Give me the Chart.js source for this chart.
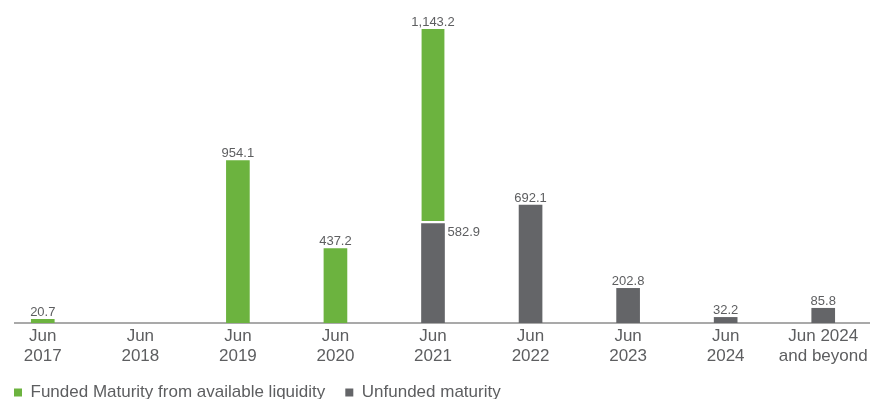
<!DOCTYPE html>
<html>
<head>
<meta charset="utf-8">
<script src="https://cdn.jsdelivr.net/npm/chart.js@4"></script>
<style>
  html, body { margin: 0; padding: 0; background: #fff; overflow: hidden; }
  #wrap { position: absolute; left: -6px; top: 0; width: 878px; height: 411px; }
</style>
</head>
<body>
<div id="wrap"><canvas id="myChart" width="878" height="411"></canvas></div>
<script>
// maturity profile, USD millions (null = nothing maturing)
var labels = [['Jun', '2017'], ['Jun', '2018'], ['Jun', '2019'], ['Jun', '2020'], ['Jun', '2021'],
              ['Jun', '2022'], ['Jun', '2023'], ['Jun', '2024'], ['Jun 2024', 'and beyond']];
var funded   = [20.7, null, 954.1, 437.2, 1143.2, null, null, null, null];
var unfunded = [null, null, null, null, 582.9, 692.1, 202.8, 32.2, 85.8];

var GREEN = '#6cb33f';
var GREY = '#646568';
var TEXT = '#5d5e60';
var FONT = 'Arial, "Liberation Sans", sans-serif';

function fmt(v) {
    return v.toLocaleString('en-US', { minimumFractionDigits: 1, maximumFractionDigits: 1 });
}

// baseline drawn a little in from the left edge
var baseline = {
    id: 'baseline',
    beforeDatasetsDraw: function(chart) {
        var c = chart.ctx, a = chart.chartArea;
        c.save();
        c.strokeStyle = '#8c8c8c';
        c.lineWidth = 1.5;
        c.beginPath();
        c.moveTo(a.left + 20, a.bottom);
        c.lineTo(a.right, a.bottom);
        c.stroke();
        c.restore();
    }
};

// value labels above the bars (unfunded goes to the right when funded sits on top of it)
var valueLabels = {
    id: 'valueLabels',
    afterDatasetsDraw: function(chart) {
        var c = chart.ctx;
        var uMeta = chart.getDatasetMeta(0), fMeta = chart.getDatasetMeta(1);
        c.save();
        c.font = '13px ' + FONT;
        c.fillStyle = TEXT;
        c.textBaseline = 'alphabetic';
        for (var i = 0; i < labels.length; i++) {
            if (funded[i]) {
                var fb = fMeta.data[i];
                c.textAlign = 'center';
                c.fillText(fmt(funded[i]), fb.x, fb.y - 3);
            }
            if (unfunded[i]) {
                var ub = uMeta.data[i];
                if (funded[i]) {
                    c.textAlign = 'left';
                    c.fillText(fmt(unfunded[i]), ub.x + ub.width / 2 + 3, ub.y + 12);
                } else {
                    c.textAlign = 'center';
                    c.fillText(fmt(unfunded[i]), ub.x, ub.y - 3);
                }
            }
        }
        c.restore();
    }
};

var ctx = document.getElementById('myChart').getContext('2d');
var myChart = new Chart(ctx, {
    type: 'bar',
    data: {
        labels: labels,
        datasets: [{
            label: 'Unfunded maturity',
            data: unfunded,
            backgroundColor: GREY,
            barThickness: 23
        }, {
            label: 'Funded Maturity from available liquidity',
            data: funded,
            backgroundColor: GREEN,
            borderColor: '#ffffff',
            borderSkipped: false,
            borderWidth: function(c) {
                return unfunded[c.dataIndex] ? { top: 0, left: 0, right: 0, bottom: 3 } : 0;
            },
            barThickness: 23
        }]
    },
    options: {
        responsive: false,
        animation: false,
        layout: { padding: { top: 8, bottom: 0 } },
        plugins: {
            tooltip: { enabled: false },
            legend: {
                position: 'bottom',
                align: 'start',
                reverse: true,
                labels: {
                    boxWidth: 8,
                    boxHeight: 8,
                    padding: 20,
                    color: TEXT,
                    font: { family: FONT, size: 17 },
                    generateLabels: function(chart) {
                        return chart.data.datasets.map(function(ds, i) {
                            return { text: ds.label, fillStyle: ds.backgroundColor, strokeStyle: ds.backgroundColor,
                                     lineWidth: 0, datasetIndex: i, fontColor: TEXT };
                        });
                    }
                }
            }
        },
        scales: {
            x: {
                stacked: true,
                grid: { display: false, drawTicks: false },
                border: { display: false },
                ticks: {
                    color: TEXT,
                    padding: 3,
                    maxRotation: 0,
                    autoSkip: false,
                    font: { family: FONT, size: 17, lineHeight: 1.18 }
                },
                afterFit: function(scale) { scale.height -= 5; }
            },
            y: {
                stacked: true,
                display: false,
                min: 0,
                max: 1850
            }
        }
    },
    plugins: [baseline, valueLabels]
});
</script>
</body>
</html>
